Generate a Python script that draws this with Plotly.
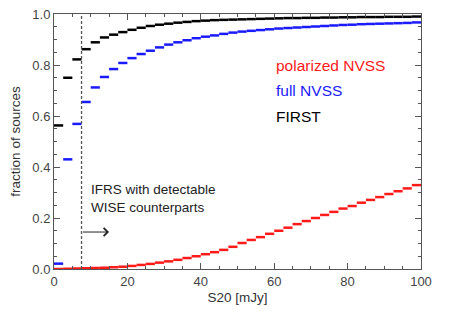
import plotly.graph_objects as go

# ---- data -------------------------------------------------------------
bin_left = [i * 2.5 for i in range(40)]   # S20 bin left edges [mJy]
bin_width = 2.5

first = [0.563, 0.750, 0.822, 0.862, 0.889, 0.908, 0.919, 0.929, 0.938, 0.946,
         0.953, 0.958, 0.962, 0.966, 0.969, 0.972, 0.974, 0.976, 0.977, 0.978,
         0.979, 0.980, 0.981, 0.982, 0.983, 0.984, 0.984, 0.985, 0.985, 0.986,
         0.986, 0.987, 0.987, 0.988, 0.988, 0.988, 0.989, 0.989, 0.989, 0.990]

full_nvss = [0.021, 0.430, 0.569, 0.655, 0.712, 0.753, 0.784, 0.808, 0.827, 0.843,
             0.856, 0.869, 0.880, 0.889, 0.897, 0.905, 0.911, 0.916, 0.922, 0.927,
             0.931, 0.934, 0.937, 0.940, 0.943, 0.945, 0.947, 0.949, 0.951, 0.953,
             0.955, 0.957, 0.958, 0.960, 0.961, 0.962, 0.963, 0.964, 0.965, 0.967]

pol_nvss = [0.000, 0.001, 0.002, 0.003, 0.004, 0.005, 0.007, 0.009, 0.012, 0.016,
            0.020, 0.025, 0.030, 0.036, 0.043, 0.050, 0.058, 0.066, 0.075, 0.087,
            0.102, 0.114, 0.125, 0.138, 0.150, 0.162, 0.176, 0.188, 0.200, 0.212,
            0.224, 0.237, 0.247, 0.260, 0.271, 0.282, 0.294, 0.305, 0.316, 0.329]

threshold = 7.5          # IFRS with detectable WISE counterparts [mJy]
arrow_end = 15.0
arrow_y = 0.145
x_ticks = [0, 20, 40, 60, 80, 100]
y_ticks = [0.0, 0.2, 0.4, 0.6, 0.8, 1.0]

series = [
    ("polarized NVSS", pol_nvss, "#ff1a1a", 0.80),
    ("full NVSS", full_nvss, "#1a1aff", 0.70),
    ("FIRST", first, "#000000", 0.60),
]

FONT = "Liberation Sans, Arial, sans-serif"


def segments(values):
    xs, ys = [], []
    for x0, v in zip(bin_left, values):
        xs += [x0, x0 + bin_width, None]
        ys += [v, v, None]
    return xs, ys


fig = go.Figure()
for name, vals, color, _ in series:
    xs, ys = segments(vals)
    fig.add_trace(go.Scatter(x=xs, y=ys, mode="lines", name=name,
                             line=dict(color=color, width=2.5),
                             showlegend=False, hoverinfo="skip", cliponaxis=False))

# dashed threshold line
fig.add_trace(go.Scatter(x=[threshold, threshold], y=[0, 1], mode="lines",
                         line=dict(color="#555555", width=1.3, dash="3px,2px"),
                         showlegend=False, hoverinfo="skip"))

# legend-like labels
for name, _, color, ypos in series:
    fig.add_annotation(x=60, y=ypos, xref="x", yref="y", text=name,
                       showarrow=False, xanchor="left", yanchor="middle",
                       font=dict(family=FONT, size=15.5, color=color))

fig.add_annotation(x=threshold + 2.0, y=0.275, xref="x", yref="y",
                   text="IFRS with detectable<br>WISE counterparts",
                   showarrow=False, xanchor="left", yanchor="middle", align="left",
                   font=dict(family=FONT, size=13.5, color="#222222"))

fig.add_annotation(x=arrow_end, y=arrow_y, ax=threshold, ay=arrow_y,
                   xref="x", yref="y", axref="x", ayref="y", text="",
                   showarrow=True, arrowhead=4, arrowsize=1.6, arrowwidth=1,
                   arrowcolor="#222222")

axis_common = dict(showline=True, mirror="allticks", linecolor="#555555",
                   linewidth=1, ticks="inside", ticklen=6, tickcolor="#555555",
                   showgrid=False, zeroline=False, automargin=False,
                   tickfont=dict(family=FONT, size=13, color="#444444"))

fig.update_xaxes(range=[0, 100], tickvals=x_ticks,
                 ticktext=[str(v) for v in x_ticks],
                 minor=dict(dtick=5, ticks="inside", ticklen=3, tickcolor="#555555"),
                 title=dict(text="S20 [mJy]", standoff=4,
                            font=dict(family=FONT, size=13.5, color="#333333")),
                 **axis_common)
fig.update_yaxes(range=[0, 1], tickvals=y_ticks,
                 ticktext=[f"{v:.1f}" for v in y_ticks],
                 minor=dict(dtick=0.05, ticks="inside", ticklen=3, tickcolor="#555555"),
                 title=dict(text="fraction of sources", standoff=8,
                            font=dict(family=FONT, size=13.5, color="#333333")),
                 **axis_common)

fig.update_layout(width=458, height=314,
                  margin=dict(l=54, r=37, t=14, b=45),
                  plot_bgcolor="white", paper_bgcolor="white",
                  showlegend=False)

# remove the browser's default 8px body margin so the figure sits at (0, 0)
fig.write_html("out.html",
               config={"displayModeBar": False, "staticPlot": True},
               post_script="document.body.style.margin='0';")
